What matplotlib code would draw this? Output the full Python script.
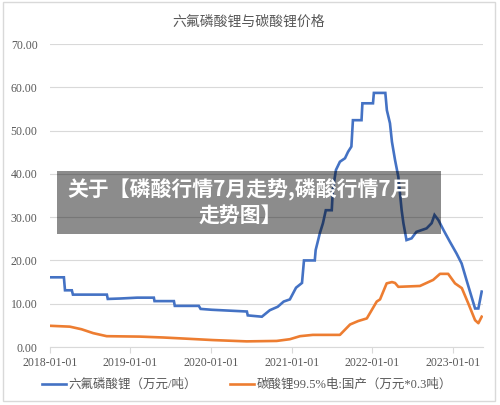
import matplotlib
matplotlib.use("Agg")
import matplotlib.pyplot as plt
import matplotlib.dates as mdates
from matplotlib.patches import Rectangle
import pandas as pd

title = "六氟磷酸锂与碳酸锂价格"
overlay_text = "关于【磷酸行情7月走势,磷酸行情7月\n走势图】"
series_names = ["六氟磷酸锂（万元/吨）", "碳酸锂99.5%电:国产（万元*0.3吨）"]
x_ticks = ["2018-01-01", "2019-01-01", "2020-01-01", "2021-01-01", "2022-01-01", "2023-01-01"]
y_ticks = [0, 10, 20, 30, 40, 50, 60, 70]

lipf6_dates = [
    "2018-01-01", "2018-03-05", "2018-03-10", "2018-04-10", "2018-04-15", "2018-09-16",
    "2018-09-20", "2018-11-14", "2019-01-31", "2019-04-17", "2019-04-20", "2019-07-17",
    "2019-07-21", "2019-11-07", "2019-11-15", "2020-01-05", "2020-06-12", "2020-06-16",
    "2020-08-19", "2020-09-24", "2020-10-30", "2020-11-26", "2020-12-24", "2021-01-21",
    "2021-02-17", "2021-02-26", "2021-04-16", "2021-04-20", "2021-05-09", "2021-05-23",
    "2021-06-05", "2021-07-02", "2021-07-07", "2021-07-21", "2021-08-08", "2021-08-31",
    "2021-09-14", "2021-09-29", "2021-10-06", "2021-11-14", "2021-11-18", "2022-01-05",
    "2022-01-09", "2022-03-02", "2022-03-09", "2022-03-23", "2022-04-01", "2022-04-15",
    "2022-04-30", "2022-05-15", "2022-05-23", "2022-06-06", "2022-06-29", "2022-07-21",
    "2022-09-05", "2022-09-28", "2022-10-11", "2022-10-29", "2022-11-21", "2022-12-20",
    "2023-01-19", "2023-02-11", "2023-03-05", "2023-03-28", "2023-04-13", "2023-04-28",
    "2023-05-13",
]
lipf6_values = [
    16.1, 16.1, 13.1, 13.1, 12.1, 12.1,
    11.1, 11.2, 11.4, 11.4, 10.6, 10.6,
    9.5, 9.5, 8.8, 8.6, 8.2, 7.3,
    7.0, 8.5, 9.3, 10.5, 11.0, 13.7,
    14.8, 20.0, 20.0, 22.4, 26.3, 28.6,
    31.6, 31.6, 36.3, 40.9, 42.8, 43.6,
    45.1, 46.3, 52.4, 52.4, 56.3, 56.3,
    58.7, 58.7, 54.7, 51.7, 47.4, 43.2,
    39.3, 31.6, 28.6, 24.7, 25.1, 26.6,
    27.4, 28.6, 30.5, 29.3, 27.0, 24.3,
    21.6, 19.3, 15.5, 11.6, 8.9, 8.9,
    12.8,
]

li2co3_dates = [
    "2018-01-01", "2018-04-01", "2018-05-24", "2018-07-16", "2018-09-15", "2019-02-13",
    "2019-05-28", "2019-08-13", "2020-01-10", "2020-06-11", "2020-10-25", "2020-12-24",
    "2021-02-08", "2021-04-07", "2021-08-08", "2021-09-23", "2021-10-30", "2021-12-08",
    "2022-01-22", "2022-02-06", "2022-03-08", "2022-04-01", "2022-04-15", "2022-04-30",
    "2022-08-06", "2022-10-05", "2022-11-05", "2022-12-12", "2023-01-12", "2023-02-12",
    "2023-03-13", "2023-04-13", "2023-04-28", "2023-05-13",
]
li2co3_values = [
    4.9, 4.7, 4.1, 3.2, 2.5, 2.4,
    2.2, 2.0, 1.6, 1.3, 1.4, 1.8,
    2.5, 2.8, 2.8, 5.2, 6.0, 6.6,
    10.5, 11.0, 14.7, 15.0, 14.8, 13.9,
    14.1, 15.5, 16.9, 16.9, 14.7, 13.6,
    10.1, 6.2, 5.5, 7.0,
]

BLUE = "#4472C4"
ORANGE = "#ED7D31"
GRID = "#d9d9d9"
TXT = "#595959"
cjk = ["Noto Sans CJK SC", "DejaVu Sans"]
serif_cjk = ["Liberation Serif", "Noto Sans CJK SC", "DejaVu Sans"]

W, H = 500, 405
fig = plt.figure(figsize=(W / 100, H / 100), dpi=100)
fig.patch.set_facecolor("white")

# outer frame
fig.patches.append(Rectangle((3 / W, 1 - 401 / H), 492 / W, 399 / H, transform=fig.transFigure,
                             fill=False, edgecolor=GRID, linewidth=1.0, zorder=0))

ax = fig.add_axes([50 / W, 1 - 347 / H, 433 / W, 303 / H])
d1 = pd.to_datetime(lipf6_dates)
d2 = pd.to_datetime(li2co3_dates)
ax.plot(d1, lipf6_values, color=BLUE, lw=1.9, solid_joinstyle="miter", zorder=3,
        label=series_names[0])
ax.plot(d2, li2co3_values, color=ORANGE, lw=1.9, zorder=3, label=series_names[1])

ax.set_ylim(0, 70)
ax.set_xlim(pd.Timestamp("2018-01-01"), pd.Timestamp("2023-05-19"))
ax.set_yticks(y_ticks)
ax.set_yticklabels([f"{v:.2f}" for v in y_ticks], fontfamily="Liberation Serif",
                   fontsize=8.5, color=TXT)
xt = pd.to_datetime(x_ticks)
ax.set_xticks(xt)
ax.set_xticklabels(x_ticks, fontfamily="Liberation Serif", fontsize=8.5, color=TXT)
ax.tick_params(axis="y", length=0, pad=9)
ax.tick_params(axis="x", length=4, color=GRID, pad=3)
ax.grid(axis="y", color=GRID, lw=0.8, zorder=0)
for s in ["left", "right", "top"]:
    ax.spines[s].set_visible(False)
ax.spines["bottom"].set_color(GRID)
ax.spines["bottom"].set_linewidth(0.8)

fig.text(249 / W, 1 - 22 / H, title, ha="center", va="center", fontsize=10,
         family=cjk, color=TXT)

ax.legend(loc="center", bbox_to_anchor=(247 / W, 1 - 385 / H), bbox_transform=fig.transFigure,
          ncol=2, frameon=False, handlelength=1.9, handletextpad=0.25, columnspacing=2.6,
          prop={"family": serif_cjk, "size": 9}, labelcolor=TXT)

# overlay banner
fig.patches.append(Rectangle((57 / W, 1 - 234 / H), 384 / W, 63 / H, transform=fig.transFigure,
                             facecolor="black", alpha=0.45, edgecolor="none", zorder=10))
fig.text(240 / W, 1 - 202 / H, overlay_text, ha="center", va="center", fontsize=15,
         fontweight="bold", family=cjk, color="white", linespacing=1.25, zorder=11)

fig.savefig("out.png", dpi=100)
